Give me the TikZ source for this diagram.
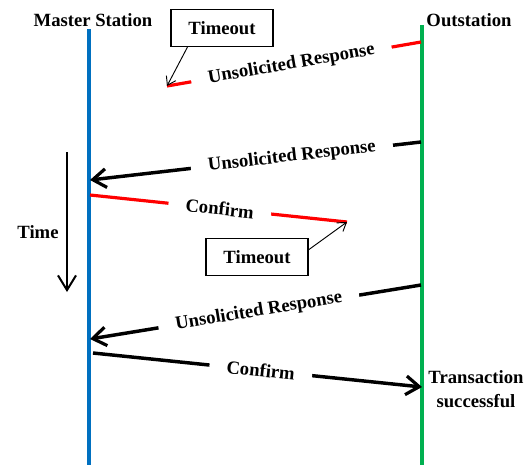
\documentclass[tikz,border=0pt]{standalone}
\usepackage{fontspec}
\setmainfont{Liberation Serif}
\usetikzlibrary{arrows.meta}
\definecolor{mblue}{RGB}{0,112,192}
\definecolor{ogreen}{RGB}{0,176,80}
\definecolor{mred}{RGB}{255,0,0}
\begin{document}
\begin{tikzpicture}[x=0.75pt,y=-0.75pt,
  lbl/.style={font=\fontsize{14}{16}\selectfont\bfseries, inner sep=0pt},
  msglbl/.style={lbl, sloped, fill=white, inner xsep=13pt, inner ysep=3pt},
  msg/.style={line width=2.6pt},
  lost/.style={line width=2.4pt, draw=mred},
  tip/.style={-{Straight Barb[length=10pt,width=14pt,line width=2.4pt]}},
  tobox/.style={lbl, draw, line width=1pt, minimum width=76.5pt, minimum height=27.75pt},
  toarrow/.style={line width=0.7pt, -{Straight Barb[length=6pt,width=8pt]}}
]
\useasboundingbox (0,0) rectangle (532,465);

% lifelines
\coordinate (mTop) at (89,29);
\coordinate (mBot) at (89,465);
\coordinate (oTop) at (422,25);
\coordinate (oBot) at (422,465);
\draw[mblue, line width=2.3pt] (mTop) -- (mBot);
\draw[ogreen, line width=2.3pt] (oTop) -- (oBot);

\node[lbl] (master) at (93,20) {Master Station};
\node[lbl] (outst) at (469,20) {Outstation};

% time arrow
\coordinate (t1) at (67,152);
\coordinate (t2) at (67,292);
\draw[line width=1.5pt, -{Straight Barb[length=11pt,width=13.5pt,line width=1.5pt]}] (t1) -- (t2);
\node[lbl] (time) at (38,232) {Time};

% message endpoints
\coordinate (o1) at (421,42);
\coordinate (e1) at (167,86);
\coordinate (o2) at (421,142);
\coordinate (m2) at (90,180);
\coordinate (m3) at (90,195);
\coordinate (e3) at (347,222);
\coordinate (o4) at (421,285);
\coordinate (m4) at (90,339);
\coordinate (m5) at (93,353);
\coordinate (o5) at (422,387);

% messages
\draw[lost] (o1) -- node[msglbl, pos=0.51] (l1) {Unsolicited Response} (e1);
\draw[msg, tip] (o2) -- node[msglbl, pos=0.39] (l2) {Unsolicited Response} (m2);
\draw[lost] (m3) -- node[msglbl, pos=0.505] (l3) {Confirm} (e3);
\draw[msg, tip] (o4) -- node[msglbl, pos=0.49] (l4) {Unsolicited Response} (m4);
\draw[msg, tip] (m5) -- node[msglbl, pos=0.51] (l5) {Confirm} (o5);

% timeouts
\node[tobox] (to1) at (222,28) {Timeout};
\node[tobox] (to2) at (257,257) {Timeout};
\draw[toarrow] (to1.209) -- (e1);
\draw[toarrow] (to2.8) -- (e3);

% transaction
\node[lbl, align=center, font=\fontsize{14}{18}\selectfont\bfseries] (trans) at (476,389) {Transaction\\successful};
\end{tikzpicture}
\end{document}
